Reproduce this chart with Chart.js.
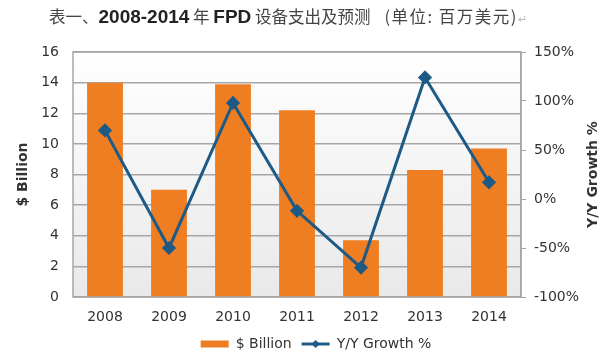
<!DOCTYPE html>
<html>
<head>
<meta charset="utf-8">
<script src="https://cdn.jsdelivr.net/npm/chart.js@4"></script>
<style>
  body { margin: 0; background: #fff; }
  #wrap { position: relative; width: 600px; height: 361px; }
  #title { position: absolute; left: 49px; top: 3px; font-size: 16.5px; color: #444; white-space: nowrap;
           font-family: "Noto Sans CJK SC", sans-serif; line-height: 26px; }
  #title b { font-family: "Liberation Sans", Arial, sans-serif; font-weight: bold; font-size: 19px; color: #222; }
</style>
</head>
<body>
<div id="wrap">
  <div id="title">表一、<b>2008-2014</b> 年 <b>FPD</b> 设备支出及预测<span style="margin-left:14px;letter-spacing:1.5px">(单位: 百万美元)</span><span style="color:#bbb;font-size:11px">↵</span></div>
  <canvas id="c" width="600" height="361"></canvas>
</div>
<script>
const years = ['2008', '2009', '2010', '2011', '2012', '2013', '2014'];
const billion = [14.0, 7.0, 13.9, 12.2, 3.7, 8.3, 9.7];
const growth = [70, -50, 98, -12, -70, 124, 17];

const lineColor = '#1d5a86';
const barColor = '#ef7d22';

const plotBg = {
  id: 'plotBg',
  beforeDraw(chart) {
    const { ctx, chartArea: a } = chart;
    const g = ctx.createLinearGradient(0, a.top, 0, a.bottom);
    g.addColorStop(0, '#ffffff');
    g.addColorStop(1, '#e9e9e9');
    ctx.save();
    ctx.fillStyle = g;
    ctx.fillRect(a.left, a.top, a.right - a.left, a.bottom - a.top);
    ctx.strokeStyle = '#a6a6a6';
    ctx.lineWidth = 1.5;
    ctx.strokeRect(a.left, a.top, a.right - a.left, a.bottom - a.top);
    ctx.restore();
  }
};

// nudge the legend a bit right of centre, as in the original
const legendShift = {
  id: 'legendShift',
  afterUpdate(chart) {
    const lg = chart.legend;
    lg.left += 16; lg.right += 16;
    lg.legendHitBoxes.forEach(h => { h.left += 16; });
  }
};

// axis titles both read bottom-to-top; diamond on the legend line
const extras = {
  id: 'extras',
  afterDraw(chart) {
    const { ctx, chartArea: a } = chart;
    const midY = (a.top + a.bottom) / 2;
    ctx.save();
    ctx.font = 'bold 14px "DejaVu Sans"';
    ctx.fillStyle = '#333';
    ctx.textAlign = 'center';
    ctx.textBaseline = 'middle';
    [[23, '$ Billion'], [593, 'Y/Y Growth %']].forEach(([x, t]) => {
      ctx.save();
      ctx.translate(x, midY);
      ctx.rotate(-Math.PI / 2);
      ctx.fillText(t, 0, 0);
      ctx.restore();
    });
    const hb = chart.legend.legendHitBoxes[1];
    if (hb) {
      const cx = hb.left + 14, cy = hb.top + 7;
      ctx.fillStyle = lineColor;
      ctx.beginPath();
      ctx.moveTo(cx, cy - 4); ctx.lineTo(cx + 4, cy); ctx.lineTo(cx, cy + 4); ctx.lineTo(cx - 4, cy);
      ctx.closePath();
      ctx.fill();
    }
    ctx.restore();
  }
};

const ctx = document.getElementById('c').getContext('2d');
new Chart(ctx, {
  data: {
    labels: years,
    datasets: [
      {
        type: 'line',
        label: 'Y/Y Growth %',
        data: growth,
        yAxisID: 'y2',
        borderColor: lineColor,
        backgroundColor: lineColor,
        borderWidth: 3,
        pointStyle: 'rectRot',
        pointRadius: 5,
        tension: 0,
        order: 0
      },
      {
        type: 'bar',
        label: '$ Billion',
        data: billion,
        yAxisID: 'y',
        backgroundColor: barColor,
        barPercentage: 1,
        categoryPercentage: 0.56,
        order: 1
      }
    ]
  },
  plugins: [plotBg, legendShift, extras],
  options: {
    responsive: false,
    animation: false,
    layout: { padding: { top: 52, left: 0, right: 0, bottom: 0 } },
    plugins: {
      legend: {
        position: 'bottom',
        reverse: true,
        labels: {
          font: { family: 'DejaVu Sans', size: 14 },
          color: '#333',
          usePointStyle: true,
          pointStyleWidth: 28,
          boxHeight: 7,
          padding: 10,
          generateLabels(chart) {
            const items = Chart.defaults.plugins.legend.labels.generateLabels(chart);
            items.forEach(it => {
              if (it.text === 'Y/Y Growth %') { it.pointStyle = 'line'; it.lineWidth = 3; it.strokeStyle = lineColor; }
              else { it.pointStyle = 'rect'; it.lineWidth = 0; }
            });
            return items;
          }
        }
      },
      tooltip: { enabled: false }
    },
    scales: {
      x: {
        grid: { display: false, drawTicks: false },
        border: { display: false },
        ticks: { font: { family: 'DejaVu Sans', size: 14 }, color: '#333', padding: 12 },
        afterFit(s) { s.height = 30; }
      },
      y: {
        position: 'left',
        min: 0, max: 16,
        ticks: { stepSize: 2, font: { family: 'DejaVu Sans', size: 14 }, color: '#333', padding: 14 },
        grid: { color: '#a6a6a6', lineWidth: 1.5, drawTicks: false },
        border: { display: false },
        afterFit(s) { s.width = 73; }
      },
      y2: {
        position: 'right',
        min: -100, max: 150,
        ticks: { stepSize: 50, callback: v => v + '%', font: { family: 'DejaVu Sans', size: 14 }, color: '#333', padding: 8 },
        grid: { drawOnChartArea: false, color: '#a6a6a6', tickLength: 5 },
        border: { color: '#a6a6a6', width: 1.5 },
        afterFit(s) { s.width = 79; }
      }
    }
  }
});
</script>
</body>
</html>
